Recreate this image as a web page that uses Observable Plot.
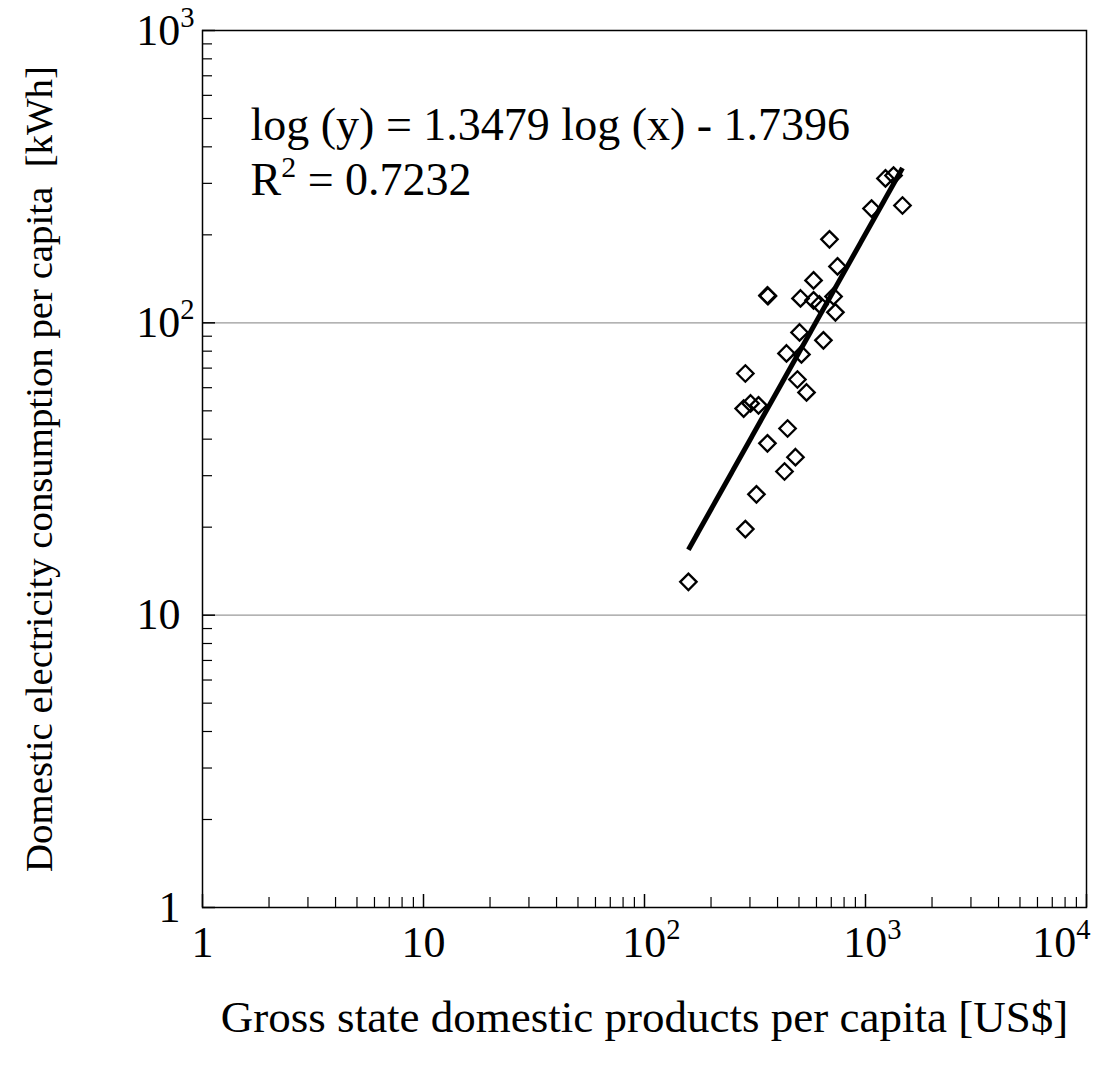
<!DOCTYPE html>
<html>
<head>
<meta charset="utf-8">
<script src="https://cdn.jsdelivr.net/npm/d3@7"></script>
<script src="https://cdn.jsdelivr.net/npm/@observablehq/plot@0.6"></script>
<style>
  html, body { margin: 0; padding: 0; background: #fff; }
  #chart svg { display: block; }
  #chart svg text, #chart svg tspan { font-family: "Liberation Serif", "Times New Roman", serif; }
</style>
</head>
<body>
<div id="chart"></div>
<script>
// Data points: GSDP per capita (US$) and domestic electricity consumption per capita (kWh)
const gsdp = [158, 286, 321, 430, 482, 360, 444, 281, 302, 328, 541, 492, 286, 513, 439, 645, 503, 731, 508, 582, 619, 717, 360, 362, 582, 747, 687, 1065, 1470, 1231, 1339];
const elec = [13.0, 19.7, 25.9, 31.0, 34.7, 38.7, 43.5, 50.9, 53.0, 52.2, 57.8, 64.0, 67.1, 78.0, 78.6, 87.1, 92.7, 108.6, 121.2, 119.4, 115.6, 123.1, 124.1, 123.5, 139.7, 156, 193, 246, 252, 312, 319];

// Regression shown on chart: log(y) = slope*log(x) + intercept
const slope = 1.3479;
const intercept = -1.7396;
const annotationLines = ["log (y) = 1.3479 log (x) - 1.7396", "R\u00B2 = 0.7232"];

// Axis ticks
const xMajor = [1, 10, 100, 1000, 10000];
const xTickLabels = ["1", "10", "10\u00B2", "10\u00B3", "10\u2074"];
const yMajor = [1, 10, 100, 1000];
const yTickLabels = ["1", "10", "10\u00B2", "10\u00B3"];
const minorMultipliers = [2, 3, 4, 5, 6, 7, 8, 9];
const gridValues = [10, 100];

const xLabel = "Gross state domestic products per capita [US$]";
const yLabel = "Domestic electricity consumption per capita  [kWh]";

const serif = "Liberation Serif";

// Build tables
const points = gsdp.map((x, i) => ({x, y: elec[i]}));
const xMin = d3.min(gsdp), xMax = d3.max(gsdp);
const fit = [xMin, xMax].map(x => ({x, y: Math.pow(10, slope * Math.log10(x) + intercept)}));
const xMinor = xMajor.slice(0, -1).flatMap(d => minorMultipliers.map(m => d * m));
const yMinor = yMajor.slice(0, -1).flatMap(d => minorMultipliers.map(m => d * m));
const xFmt = new Map(xMajor.map((d, i) => [d, xTickLabels[i]]));
const yFmt = new Map(yMajor.map((d, i) => [d, yTickLabels[i]]));

const chart = Plot.plot({
  width: 1113,
  height: 1074,
  marginLeft: 202,
  marginRight: 27,
  marginTop: 30,
  marginBottom: 167,
  style: {fontFamily: serif, fontSize: "44px", background: "#fff", color: "#000"},
  x: {type: "log", domain: [1, 10000]},
  y: {type: "log", domain: [1, 1000]},
  marks: [
    Plot.ruleY(gridValues, {stroke: "#9a9a9a", strokeWidth: 1.2}),
    // minor ticks (inward)
    Plot.axisX(xMinor, {tickSize: -10, tickFormat: () => "", label: null, strokeWidth: 1.2}),
    Plot.axisY(yMinor, {tickSize: -10, tickFormat: () => "", label: null, strokeWidth: 1.2}),
    // major ticks with labels
    Plot.axisX(xMajor, {tickSize: -13, tickPadding: 31, tickFormat: d => xFmt.get(d), strokeWidth: 1.5,
      label: null, fontSize: 44}),
    Plot.axisX({ticks: [], tickSize: 0, label: xLabel, labelAnchor: "center", labelArrow: "none", labelOffset: 124, fontSize: 45, dx: 7}),
    Plot.axisY(yMajor, {tickSize: -13, tickPadding: 35, tickFormat: d => yFmt.get(d), strokeWidth: 1.5,
      label: null, fontSize: 44}),
    Plot.axisY({ticks: [], tickSize: 0, label: yLabel, labelAnchor: "center", labelArrow: "none", labelOffset: 178, fontSize: 38.8, dy: -4}),
    Plot.frame({stroke: "#000", strokeWidth: 1.5}),
    Plot.line(fit, {x: "x", y: "y", stroke: "#000", strokeWidth: 5, strokeLinecap: "butt"}),
    Plot.dot(points, {x: "x", y: "y", symbol: "diamond2", r: 7.4, stroke: "#000", strokeWidth: 2.3, fill: "none"}),
    Plot.text([annotationLines[0]], {frameAnchor: "top-left", dx: 48, dy: 95, text: d => d, textAnchor: "start", lineAnchor: "middle", fontSize: 46, fontFamily: serif, fill: "#000"}),
    Plot.text([annotationLines[1]], {frameAnchor: "top-left", dx: 48, dy: 150, text: d => d, textAnchor: "start", lineAnchor: "middle", fontSize: 46, fontFamily: serif, fill: "#000"})
  ]
});

// Render unicode superscript digits as raised, smaller tspans (keeps real text)
const supMap = {"\u00B2": "2", "\u00B3": "3", "\u2074": "4"};
const supRe = /[\u00B2\u00B3\u2074]/;
chart.querySelectorAll("text").forEach(t => {
  const targets = t.children.length ? Array.from(t.querySelectorAll("tspan")) : [t];
  let hadSup = false;
  targets.forEach(el => {
    if (el.children.length) return;
    const s = el.textContent;
    if (!supRe.test(s)) return;
    hadSup = true;
    el.textContent = "";
    const parts = s.split(/([\u00B2\u00B3\u2074])/).filter(p => p !== "");
    let raised = false;
    parts.forEach(p => {
      const ts = document.createElementNS("http://www.w3.org/2000/svg", "tspan");
      if (supMap[p]) {
        ts.textContent = supMap[p];
        ts.setAttribute("font-size", "0.65em");
        ts.setAttribute("dy", "-0.62em");
        raised = true;
      } else {
        ts.textContent = p;
        if (raised) { ts.setAttribute("dy", "0.4em"); raised = false; }
      }
      el.appendChild(ts);
    });
  });
  if (!hadSup) return;
  // Let the superscript hang past the tick-aligned base number, as in the original
  const g = t.closest("g[aria-label]");
  const role = g ? g.getAttribute("aria-label") : "";
  const tr = t.getAttribute("transform") || "";
  if (role.includes("y-axis")) {
    t.setAttribute("transform", tr + " translate(14,0)");
  } else if (role.includes("x-axis")) {
    const isLast = t.textContent === "104";
    if (isLast) {
      t.setAttribute("text-anchor", "end");
      t.setAttribute("transform", tr + " translate(4,0)");
    } else {
      t.setAttribute("transform", tr + " translate(7,0)");
    }
  }
});
document.getElementById("chart").appendChild(chart);
</script>
</body>
</html>
